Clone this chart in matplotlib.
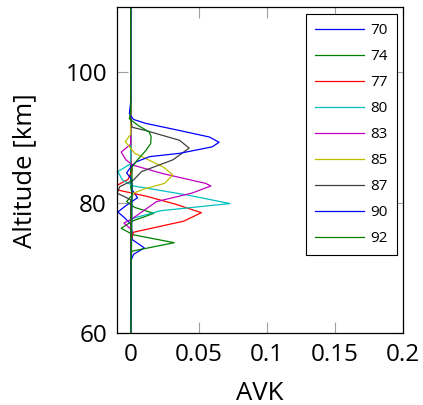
import matplotlib
matplotlib.use("Agg")
import matplotlib.pyplot as plt

labels = ["70", "74", "77", "80", "83", "85", "87", "90", "92"]
colors = ["#0000ff", "#008000", "#ff0000", "#00bfbf", "#bf00bf",
          "#bfbf00", "#404040", "#0000ff", "#008000"]

alt_70 = [60, 71.0, 72.1, 73.1, 74.4, 75.5, 76.8, 77.8, 78.6, 79.5, 80.8, 82.0, 84.0, 110]
avk_70 = [0, 0, 0.002, 0.010, 0.001, 0.001, 0.000, -0.005, -0.0095, -0.004, 0.005, 0.001, 0, 0]

alt_74 = [60, 72.0, 72.6, 73.9, 75.1, 76.1, 77.2, 78.4, 79.3, 80.2, 81.2, 82.5, 110]
avk_74 = [0, 0, 0.001, 0.032, 0.002, -0.007, 0.001, 0.017, 0.003, -0.003, 0.001, 0, 0]

alt_77 = [60, 74.0, 75.5, 77.2, 78.5, 79.8, 81.0, 82.0, 82.7, 83.6, 85.0, 87.0, 110]
avk_77 = [0, 0, 0.002, 0.039, 0.052, 0.033, 0.012, -0.010, -0.010, -0.002, 0.001, 0, 0]

alt_80 = [60, 76.0, 77.6, 78.8, 79.9, 81.2, 82.6, 83.5, 84.8, 86.0, 110]
avk_80 = [0, 0, 0.001, 0.022, 0.073, 0.042, 0.002, -0.006, -0.0095, 0, 0]

alt_83 = [60, 76.0, 76.9, 77.7, 80.2, 81.5, 82.6, 83.0, 84.5, 85.8, 86.6, 87.8, 89.0, 110]
avk_83 = [0, 0, -0.005, 0.002, 0.019, 0.045, 0.059, 0.055, 0.0235, 0.0015, -0.0035, -0.007, 0, 0]

alt_85 = [60, 80.0, 81.5, 82.2, 83.0, 84.3, 85.5, 87.6, 89.4, 90.5, 110]
avk_85 = [0, 0, 0.002, 0.011, 0.025, 0.031, 0.024, 0.003, -0.004, 0.0, 0]

alt_87 = [60, 80.5, 81.5, 82.5, 83.5, 84.8, 86.6, 88.4, 89.6, 91.1, 91.6, 93.0, 110]
avk_87 = [0, 0, -0.010, -0.008, 0.002, 0.008, 0.031, 0.043, 0.036, 0.011, 0.001, 0, 0]

alt_90 = [60, 83.5, 84.6, 85.5, 86.3, 87.1, 87.6, 88.6, 89.3, 90.1, 91.1, 92.2, 92.8, 93.7, 95.5, 110]
avk_90 = [0, 0.001, -0.003, 0.000, 0.004, 0.014, 0.036, 0.060, 0.065, 0.058, 0.036, 0.011, 0.002, -0.001, 0, 0]

alt_92 = [60, 85.5, 86.6, 88.0, 89.1, 90.2, 90.9, 91.8, 92.9, 94.0, 110]
avk_92 = [0, 0.001, 0.005, 0.011, 0.0147, 0.015, 0.0135, 0.006, -0.001, 0, 0]

alts = [alt_70, alt_74, alt_77, alt_80, alt_83, alt_85, alt_87, alt_90, alt_92]
avks = [avk_70, avk_74, avk_77, avk_80, avk_83, avk_85, avk_87, avk_90, avk_92]

xticks = [0, 0.05, 0.1, 0.15, 0.2]
xticklabels = ["0", "0.05", "0.1", "0.15", "0.2"]
yticks = [60, 80, 100]

plt.rcParams['font.family'] = ['Open Sans', 'DejaVu Sans']

fig = plt.figure(figsize=(4.23, 4.05), dpi=100)
ax = fig.add_axes([0.2759, 0.177, 0.6757, 0.805])

for a, v, lab, c in zip(alts, avks, labels, colors):
    ax.plot(v, a, color=c, lw=0.9, label=lab)

ax.set_xlim(-0.0103, 0.2)
ax.set_ylim(60, 110)
ax.set_xticks(xticks)
ax.set_xticklabels(xticklabels)
ax.set_yticks(yticks)
ax.tick_params(direction='in', length=8, width=0.8, color='#a0a0a0',
               labelsize=17.5, pad=7, top=True, right=True)
for s in ax.spines.values():
    s.set_linewidth(0.9)

ax.set_xlabel("AVK", fontsize=18.5, va='center')
ax.set_ylabel("Altitude [km]", fontsize=18.5, va='center')
ax.xaxis.set_label_coords(0.5, -0.186)
ax.yaxis.set_label_coords(-0.321, 0.5)

leg = ax.legend(loc='upper right', bbox_to_anchor=(0.979, 0.979),
                borderaxespad=0, fontsize=11, frameon=True, fancybox=False,
                edgecolor='black', framealpha=1, handlelength=3.2,
                handletextpad=0.4, labelspacing=0.72, borderpad=0.6)
leg.get_frame().set_linewidth(0.8)

fig.savefig("out.png", dpi=100)
